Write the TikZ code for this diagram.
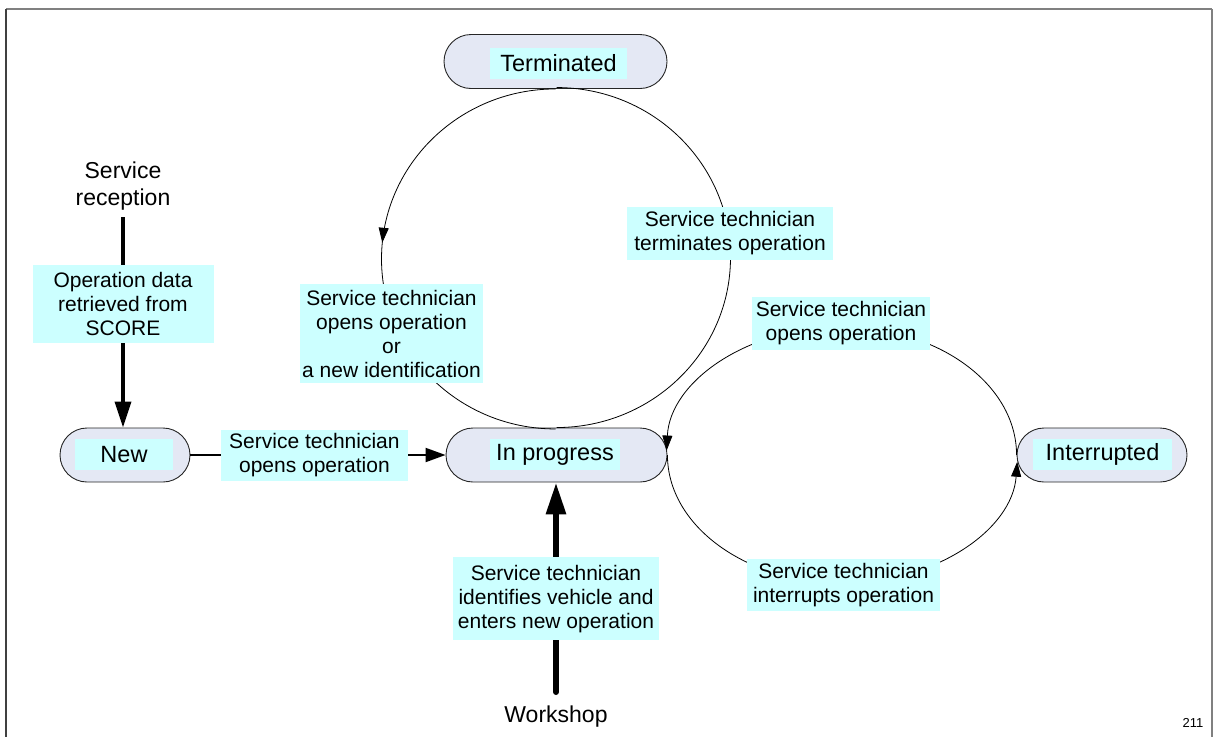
\documentclass[tikz,border=0pt]{standalone}
\usepackage{fontspec}
\setmainfont{Liberation Sans}
\usetikzlibrary{arrows.meta,shapes.misc,decorations.markings}
\definecolor{cyanbg}{HTML}{CCFFFF}
\definecolor{statefill}{HTML}{E4E8F4}
\definecolor{framegray}{HTML}{808080}
\begin{document}
\begin{tikzpicture}[x=1pt,y=1pt,
  statebox/.style={rounded rectangle, draw=black!85, line width=0.9pt, fill=statefill,
    minimum height=54pt, inner sep=0pt},
  statetext/.style={fill=cyanbg, inner sep=0pt, minimum height=31pt,
    font=\fontsize{23.5}{27}\selectfont},
  lbl/.style={fill=cyanbg, inner sep=0pt, align=center,
    font=\fontsize{21}{24}\selectfont},
  plaintext/.style={inner sep=0pt, align=center, font=\fontsize{23}{27}\selectfont},
  arcline/.style={draw=black, line width=0.8pt},
  smalltip/.style={-{Triangle[length=15pt,width=10pt]}},
  midtip/.style={decoration={markings, mark=at position 0.47 with {\arrow{Triangle[length=15pt,width=10pt]}}}, postaction={decorate}}
]
\useasboundingbox (0,0) rectangle (1213,-737);
% frame
\draw[framegray, line width=2pt] (6,-9) -- (1212,-9);
\draw[framegray, line width=1.5pt] (1212,-9) -- (1212,-737);
\draw[black!75, line width=2pt] (6,-9) -- (6,-737);

% states
\node[statebox, minimum width=223pt] (term) at (555.5,-61.5) {};
\node[statetext, minimum width=137pt] (termt) at (558.5,-63) {Terminated};
\node[statebox, minimum width=130pt] (new) at (125,-455) {};
\node[statetext, minimum width=98pt] (newt) at (124,-454.5) {New};
\node[statebox, minimum width=221pt] (prog) at (556.5,-455) {};
\node[statetext, minimum width=130pt] (progt) at (555,-454.5) {In progress};
\node[statebox, minimum width=170pt] (intr) at (1102,-455) {};
\node[statetext, minimum width=139pt] (intrt) at (1102.5,-454) {Interrupted};

% big circle between Terminated and In progress
\draw[arcline, midtip] (term.south) arc[start angle=90, end angle=270, x radius=174, y radius=170];
\draw[arcline] (prog.north) arc[start angle=270, end angle=450, x radius=174, y radius=170];

% ellipse between In progress and Interrupted
\draw[arcline, smalltip] (intr.west) arc[start angle=0, end angle=178, x radius=175, y radius=128];
\draw[arcline, smalltip] (prog.east) arc[start angle=180, end angle=357, x radius=175, y radius=128];

% arc labels
\node[lbl, minimum width=183pt, minimum height=99pt] (lopen) at (391.5,-333.5)
  {Service technician\\opens operation\\or\\a new identification};
\node[lbl, minimum width=206pt, minimum height=53pt] (lterm) at (730,-233.5)
  {Service technician\\terminates operation};
\node[lbl, minimum width=178pt, minimum height=53pt] (lreopen) at (841,-323.5)
  {Service technician\\opens operation};
\node[lbl, minimum width=193pt, minimum height=52pt] (lintr) at (843.5,-585)
  {Service technician\\interrupts operation};

% New -> In progress
\draw[line width=2pt, -{Triangle[length=20pt,width=14pt]}] (new.east) --
  node[lbl, pos=0.486, minimum width=187pt, minimum height=51pt] (lnew) {Service technician\\opens operation}
  (prog.west);

% Service reception -> New
\node[plaintext] (srv) at (123,-186.5) {Service\\reception};
\coordinate (srvend) at (123,-217);
\draw[line width=3.5pt, -{Triangle[length=26pt,width=16pt]}] (srvend) --
  node[lbl, pos=0.412, minimum width=181pt, minimum height=78pt] (lscore) {Operation data\\retrieved from\\SCORE}
  (srvend |- new.north);

% Workshop -> In progress
\node[plaintext] (ws) at (556,-717) {Workshop};
\coordinate (wsend) at (556,-692);
\draw[line width=6pt, line cap=round, -{Triangle[length=32pt,width=19pt]}] (wsend) --
  node[lbl, pos=0.445, minimum width=206pt, minimum height=83pt] (lws) {Service technician\\identifies vehicle and\\enters new operation}
  (wsend |- prog.south);

% page number
\node[inner sep=0pt, font=\fontsize{13}{15}\selectfont] (pg) at (1193,-723) {211};
\end{tikzpicture}
\end{document}
